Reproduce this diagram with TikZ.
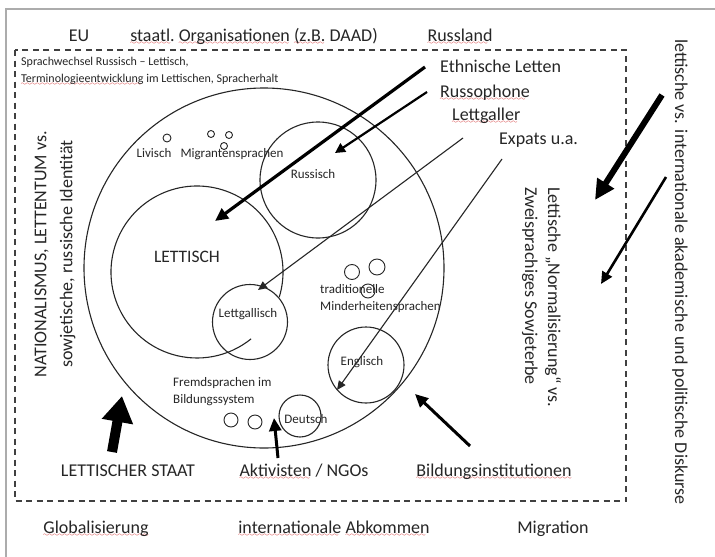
\documentclass[tikz,border=0pt]{standalone}
\usepackage{fontspec}
\setmainfont{Carlito}
\usetikzlibrary{arrows.meta}
\font\wavefont=lasy6
\newcommand\rw[1]{\setbox0=\hbox{#1}\rlap{\lower3.4pt\hbox to \wd0{\color{red!80!black}\wavefont\leaders\hbox{\char58}\hfill}}\box0\relax}
\tikzset{
  big/.style={font=\fontsize{18}{22}\selectfont, inner sep=0pt, text=black!85},
  small/.style={font=\fontsize{13}{17}\selectfont, inner sep=0pt, text=black!85},
  tiny/.style={font=\fontsize{12}{17}\selectfont, inner sep=0pt, text=black!85},
  ring/.style={draw=black!85, line width=1.1pt, circle, inner sep=0pt},
  arc line/.style={draw=black!85, line width=1.1pt},
  thinarrow/.style={draw=black!85, line width=1.1pt, -{Triangle[length=9pt,width=8pt]}},
  midarrow/.style={draw=black, line width=2.2pt, -{Triangle[length=10pt,width=10pt]}},
  thickarrow/.style={draw=black, line width=3.2pt, -{Triangle[length=13pt,width=12pt]}}
}
\begin{document}
\begin{tikzpicture}[x=1pt,y=-1pt]
\useasboundingbox (0,0) rectangle (715,557);
\fill[white] (0,0) rectangle (715,557);
% outer frame
\draw[gray!65, line width=1.6pt] (6,570) -- (6,9) -- (730,9);
% dashed box
\draw[black!75, line width=1.2pt, dash pattern=on 6pt off 4.5pt] (15,50) rectangle (626,501);

% top labels
\node[big, anchor=base] (eu) at (79,41) {EU};
\node[big, anchor=base] (staatl) at (254,41) {\rw{staatl.} \rw{Organisationen} \rw{(z.B.} DAAD)};
\node[big, anchor=base] (russl) at (460,41) {\rw{Russland}};

% bottom labels
\node[big, anchor=base] (glob) at (96,533) {\rw{Globalisierung}};
\node[big, anchor=base] (intab) at (334,533) {\rw{internationale} \rw{Abkommen}};
\node[big, anchor=base] (migr) at (553,533) {Migration};

% top-left text
\node[tiny, anchor=base west] (sw1) at (21,65) {Sprachwechsel Russisch -- Lettisch,};
\node[tiny, anchor=base west] (sw2) at (21,82) {\rw{Terminologieentwicklung} im Lettischen, Spracherhalt};

% right group labels
\node[big, anchor=base west] (eth) at (440,72) {Ethnische Letten};
\node[big, anchor=base west] (russo) at (440,97) {\rw{Russophone}};
\node[big, anchor=base west] (lettg) at (452,120) {\rw{Lettgaller}};
\node[big, anchor=base west] (expats) at (499,144) {Expats u.a.};

% bottom actors
\node[big, anchor=base] (staat) at (128,476) {LETTISCHER STAAT};
\node[big, anchor=base] (aktiv) at (304,476) {\rw{Aktivisten} / NGOs};
\node[big, anchor=base] (bild) at (494,476) {\rw{Bildungsinstitutionen}};

% vertical texts
\node[big, rotate=90, align=center, font=\fontsize{18}{26}\selectfont] (natl) at (55,254)
  {NATIONALISMUS, LETTENTUM vs.\\ sowjetische, russische Identität};
\node[big, rotate=-90, align=left, anchor=west, font=\fontsize{18}{23}\selectfont] (norm) at (541.5,187)
  {Lettische „Normalisierung“ vs.\\ Zweisprachiges Sowjeterbe};
\node[big, rotate=-90] (disk) at (680,272) {lettische vs. internationale akademische und politische Diskurse};

% circles
\node[ring, minimum size=360pt] (outer) at (264,268) {};
\node[ring, minimum size=116pt] (russc) at (318,180) {};
\draw[arc line] ([shift={(-17:86pt)}]197,272) arc[start angle=-17, end angle=309, radius=86pt];
\coordinate (lettc) at (197,272);
\node[ring, minimum size=75pt] (lgc) at (250,322) {};
\node[ring, minimum size=76pt] (engc) at (366,365) {};
\node[ring, minimum size=42pt] (deuc) at (300,416) {};

% small circles
\node[ring, minimum size=8pt, line width=0.9pt] (liv) at (167,138) {};
\node[ring, minimum size=7pt, line width=0.9pt] (mig1) at (211,134) {};
\node[ring, minimum size=7pt, line width=0.9pt] (mig2) at (229,135) {};
\node[ring, minimum size=7pt, line width=0.9pt] (mig3) at (224,146) {};
\node[ring, minimum size=15pt, line width=0.9pt] (tm1) at (352,272) {};
\node[ring, minimum size=16pt, line width=0.9pt] (tm2) at (377,267) {};
\node[ring, minimum size=14pt, line width=0.9pt] (tm3) at (368,291) {};
\node[ring, minimum size=14pt, line width=0.9pt] (fs1) at (231,420) {};
\node[ring, minimum size=14pt, line width=0.9pt] (fs2) at (255,422) {};

% circle labels
\node[small, anchor=base] (livl) at (154,157) {Livisch};
\node[small, anchor=base] (migl) at (232,157) {Migrantensprachen};
\node[small, anchor=base] (russl2) at (313,178) {Russisch};
\node[big, anchor=base, font=\fontsize{17.5}{20}\selectfont] (lettl) at (187,262) {LETTISCH};
\node[small, anchor=base] (lgl) at (248,317) {Lettgallisch};
\node[small, anchor=base west] (tr1) at (320,293) {traditionelle};
\node[small, anchor=base west] (tr2) at (320,310) {Minderheitensprachen};
\node[small, anchor=base] (engl) at (362,365) {Englisch};
\node[small, anchor=base] (deul) at (306,423) {Deutsch};
\node[small, anchor=base west] (fr1) at (173,386) {Fremdsprachen im};
\node[small, anchor=base west] (fr2) at (173,403) {Bildungssystem};

% arrow end points
\coordinate (ethS) at (425,67);   \coordinate (ethT) at (215,221);
\coordinate (rusS) at (427,92);   \coordinate (rusT) at (335,153);
\coordinate (lgS) at (463,138);   \coordinate (lgT) at (258,290);
\coordinate (exS) at (502,159);   \coordinate (exT) at (337,390);
\coordinate (stS) at (112,452);   \coordinate (stT) at (122,396);
\coordinate (akS) at (278,458);   \coordinate (akT) at (274,418);
\coordinate (biS) at (470,446);   \coordinate (biT) at (415,394);
\coordinate (r1S) at (662,95);    \coordinate (r1T) at (595,200);
\coordinate (r2S) at (666,177);   \coordinate (r2T) at (601,284);

% arrows
\draw[thickarrow] (ethS) -- (ethT);
\draw[midarrow] (rusS) -- (rusT);
\draw[thinarrow] (lgS) -- (lgT);
\draw[thinarrow] (exS) -- (exT);
\draw[black, line width=10pt, -{Triangle[length=26pt,width=30pt]}] (stS) -- (stT);
\draw[thickarrow, line width=3pt] (akS) -- (akT);
\draw[thickarrow, line width=3pt] (biS) -- (biT);
\draw[black, line width=6pt, -{Triangle[length=20pt,width=19pt]}] (r1S) -- (r1T);
\draw[black, line width=2.6pt, -{Triangle[length=12pt,width=11pt]}] (r2S) -- (r2T);
\end{tikzpicture}
\end{document}
